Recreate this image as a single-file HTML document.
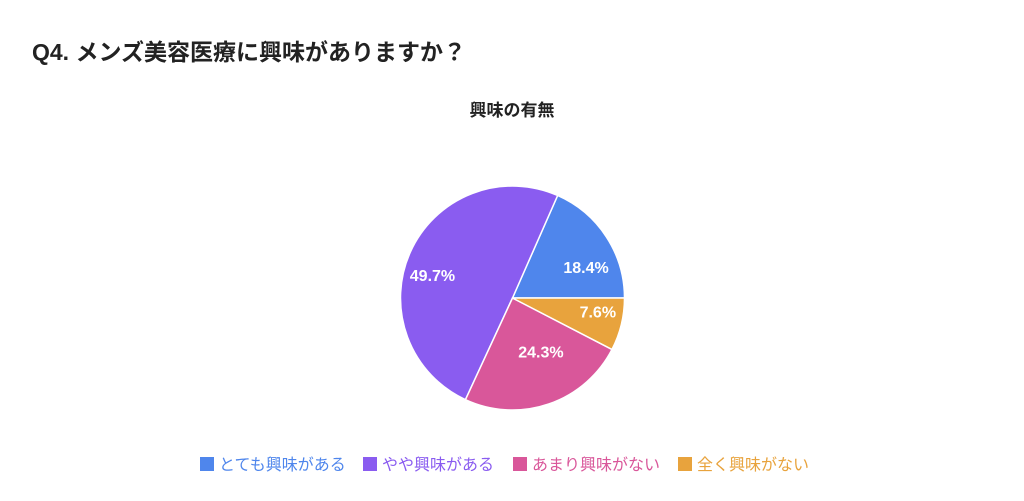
<!DOCTYPE html>
<html><head><meta charset="utf-8"><style>
body{margin:0;width:1024px;height:501px;background:#fff;font-family:"Liberation Sans","Noto Sans CJK JP",sans-serif;overflow:hidden}
h1{position:absolute;left:32px;top:33px;margin:0;font-size:23px;font-weight:bold;color:#222}
</style></head><body>
<h1>Q4. メンズ美容医療に興味がありますか？</h1>
<svg id="chart" width="1024" height="501" style="position:absolute;left:0;top:0">
<text x="512" y="116" text-anchor="middle" font-size="17" font-weight="bold" fill="#222" font-family="Liberation Sans, Noto Sans CJK JP, sans-serif">興味の有無</text>
<g id="slices"></g><g id="legend"></g>
</svg>
<script>
const categories=["とても興味がある","やや興味がある","あまり興味がない","全く興味がない"];
const values=[18.4,49.7,24.3,7.6];
const colors=["#4f86ec","#8a5cf0","#d9579a","#e8a33d"];
const cx=512.5,cy=298,r=112;
const ns="http://www.w3.org/2000/svg";
const g=document.getElementById('slices');
const total=values.reduce((a,b)=>a+b,0);
let a0=0;
values.forEach((v,i)=>{
  const a1=a0+v/total*2*Math.PI;
  const x0=cx+r*Math.cos(a0),y0=cy-r*Math.sin(a0),x1=cx+r*Math.cos(a1),y1=cy-r*Math.sin(a1);
  const p=document.createElementNS(ns,'path');
  
  
  p.setAttribute('d',`M${cx},${cy}L${x0},${y0}A${r},${r} 0 ${a1-a0>Math.PI?1:0} 0 ${x1},${y1}Z`);
  p.setAttribute('fill',colors[i]);p.setAttribute('stroke','#fff');p.setAttribute('stroke-width','1.5');
  g.appendChild(p);
  const m=(a0+a1)/2;
  const lx0=cx+r*0.7*Math.cos(m), ly0=cy-r*0.7*Math.sin(m);
  // pull labels toward horizontal center line slightly (matches reference placement)
  const t=document.createElementNS(ns,'text');
  
  
  t.setAttribute('x',lx0+(lx0-cx)*0.12);t.setAttribute('y',cy+(ly0-cy)*0.72+6);
  t.setAttribute('text-anchor','middle');t.setAttribute('font-size','16');t.setAttribute('font-weight','bold');
  t.setAttribute('fill','#fff');t.setAttribute('font-family','Liberation Sans, sans-serif');
  t.textContent=v.toFixed(1)+'%';
  g.appendChild(t);
  a0=a1;
});
const lg=document.getElementById('legend');
const lx=[200,363,513,678];
categories.forEach((c,i)=>{
  const rc=document.createElementNS(ns,'rect');
  
  
  rc.setAttribute('x',lx[i]);rc.setAttribute('y',457);rc.setAttribute('width',14);rc.setAttribute('height',14);rc.setAttribute('fill',colors[i]);
  lg.appendChild(rc);
  const t=document.createElementNS(ns,'text');
  
  
  t.setAttribute('x',lx[i]+19);t.setAttribute('y',470);t.setAttribute('font-size','16');t.setAttribute('fill',colors[i]);
  t.setAttribute('font-family','Liberation Sans, Noto Sans CJK JP, sans-serif');
  t.textContent=c;
  lg.appendChild(t);
});
</script>
</body></html>
